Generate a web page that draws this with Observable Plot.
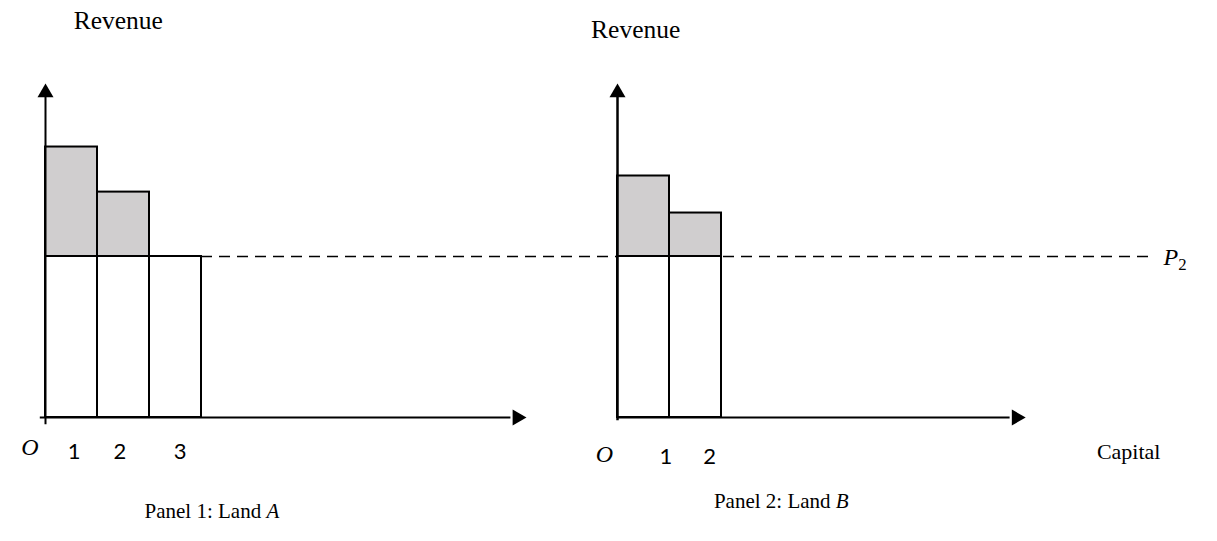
<!DOCTYPE html>
<html>
<head>
<meta charset="utf-8">
<script src="https://cdn.jsdelivr.net/npm/d3@7"></script>
<script src="https://cdn.jsdelivr.net/npm/@observablehq/plot@0.6"></script>
<style>
  html, body { margin: 0; padding: 0; background: #fff; }
  #chart { width: 1217px; height: 541px; }
</style>
</head>
<body>
<div id="chart"></div>
<script>
// ---- data ----
const landACapital = [1, 2, 3];
const landARevenue = [16.8, 14.0, 10.0];
const landBCapital = [1, 2];
const landBRevenue = [15.0, 12.7];
const priceP2 = 10;
const tickLabelsA = ["1", "2", "3"];
const tickLabelsB = ["1", "2"];
const panelTitles = ["Panel 1: Land A", "Panel 2: Land B"];
const yAxisTitle = "Revenue";
const xAxisTitle = "Capital";
const originLabel = "O";
const priceLabel = "P2";

// ---- layout (capital units along a shared x scale) ----
const originA = 0, originB = 11;
const tipA = 9.25, tipB = 18.85, yTip = 20.75;
const tickNudgeA = [0.05, -0.07, 0.09];
const tickNudgeB = [0.43, 0.27];

const bars = [
  ...landACapital.map((k, i) => ({panel: "A", x1: originA + k - 1, x2: originA + k, rev: landARevenue[i]})),
  ...landBCapital.map((k, i) => ({panel: "B", x1: originB + k - 1, x2: originB + k, rev: landBRevenue[i]}))
];
const surplus = bars.filter(d => d.rev > priceP2);
const ticks = [
  ...tickLabelsA.map((t, i) => ({t, x: originA + i + 0.5 + tickNudgeA[i], panel: "A"})),
  ...tickLabelsB.map((t, i) => ({t, x: originB + i + 0.5 + tickNudgeB[i], panel: "B"}))
];

const serif = "'Liberation Serif', 'Times New Roman', serif";
const sans = "Lato, 'Open Sans', sans-serif";

const chart = Plot.plot({
  width: 1217,
  height: 541,
  margin: 0,
  style: {background: "#fff", fontFamily: serif, overflow: "visible"},
  x: {type: "linear", domain: [0, 22], range: [45, 45 + 22 * 52], axis: null},
  y: {type: "linear", domain: [0, 20], range: [417, 417 - 20 * 16.1], axis: null},
  marks: [
    // dashed price line
    Plot.ruleY([priceP2], {x1: originA + landACapital.length, x2: 21.22, stroke: "#000", strokeWidth: 1.6, strokeDasharray: "11,7"}),
    // lower (white) parts
    Plot.rect(bars, {x1: "x1", x2: "x2", y1: 0, y2: d => Math.min(d.rev, priceP2), fill: "#fff", stroke: "#000", strokeWidth: 2}),
    // shaded rent parts
    Plot.rect(surplus, {x1: "x1", x2: "x2", y1: priceP2, y2: "rev", fill: "#d0cecf", stroke: "#000", strokeWidth: 2}),
    // y axes
    Plot.ruleX([originA], {y1: -0.45, y2: 20, stroke: "#000", strokeWidth: 2}),
    Plot.ruleX([originB], {y1: -0.2, y2: 20, stroke: "#000", strokeWidth: 2.5}),
    // x axes
    Plot.ruleY([0], {x1: originA - 0.1, x2: tipA - 0.3, stroke: "#000", strokeWidth: 2}),
    Plot.ruleY([0], {x1: originB, x2: tipB - 0.3, stroke: "#000", strokeWidth: 2}),
    // arrowheads
    Plot.dot([originA, originB], {x: d => d, y: yTip, symbol: "triangle", r: 5.94, fill: "#000", stroke: null, dy: 9.24}),
    Plot.dot([tipA, tipB], {x: d => d, y: 0, symbol: "triangle", r: 5.94, fill: "#000", stroke: null, rotate: 90, dx: -9.24}),
    // texts
    Plot.text([yAxisTitle], {x: 1.4, y: 24.1, text: d => d, fontSize: 25.5, lineAnchor: "bottom"}),
    Plot.text([yAxisTitle], {x: 11.35, y: 23.6, text: d => d, fontSize: 25.5, lineAnchor: "bottom"}),
    Plot.text([originLabel], {x: -0.3, y: -2.36, text: d => d, fontSize: 24, fontStyle: "italic", lineAnchor: "bottom"}),
    Plot.text([originLabel], {x: 10.75, y: -2.75, text: d => d, fontSize: 24, fontStyle: "italic", lineAnchor: "bottom"}),
    Plot.text(ticks, {x: "x", y: d => d.panel === "A" ? -2.55 : -2.9, text: "t", fontSize: 22, fontFamily: sans, lineAnchor: "bottom"}),
    Plot.text([xAxisTitle], {x: 20.83, y: -2.58, text: d => d, fontSize: 22, lineAnchor: "bottom"}),
    Plot.text([priceLabel], {x: 21.5, y: 9.45, text: d => d, fontSize: 24, textAnchor: "start", lineAnchor: "bottom"}),
    Plot.text([panelTitles[0]], {x: 3.2, y: -6.25, text: d => d, fontSize: 21, lineAnchor: "bottom"}),
    Plot.text([panelTitles[1]], {x: 14.15, y: -5.65, text: d => d, fontSize: 21, lineAnchor: "bottom"})
  ]
});

// italic letters / subscript as tspans on real text
d3.select(chart).selectAll("text").each(function () {
  const t = this.textContent;
  const m = t.match(/^(Panel \d: Land )([AB])$/);
  if (m) {
    this.textContent = m[1];
    d3.select(this).append("tspan").attr("font-style", "italic").text(m[2]);
  } else if (t === "P2") {
    this.textContent = "";
    d3.select(this).append("tspan").attr("font-style", "italic").text("P");
    d3.select(this).append("tspan").attr("font-size", "70%").attr("dy", "0.25em").text("2");
  }
});

document.getElementById("chart").appendChild(chart);
</script>
</body>
</html>
